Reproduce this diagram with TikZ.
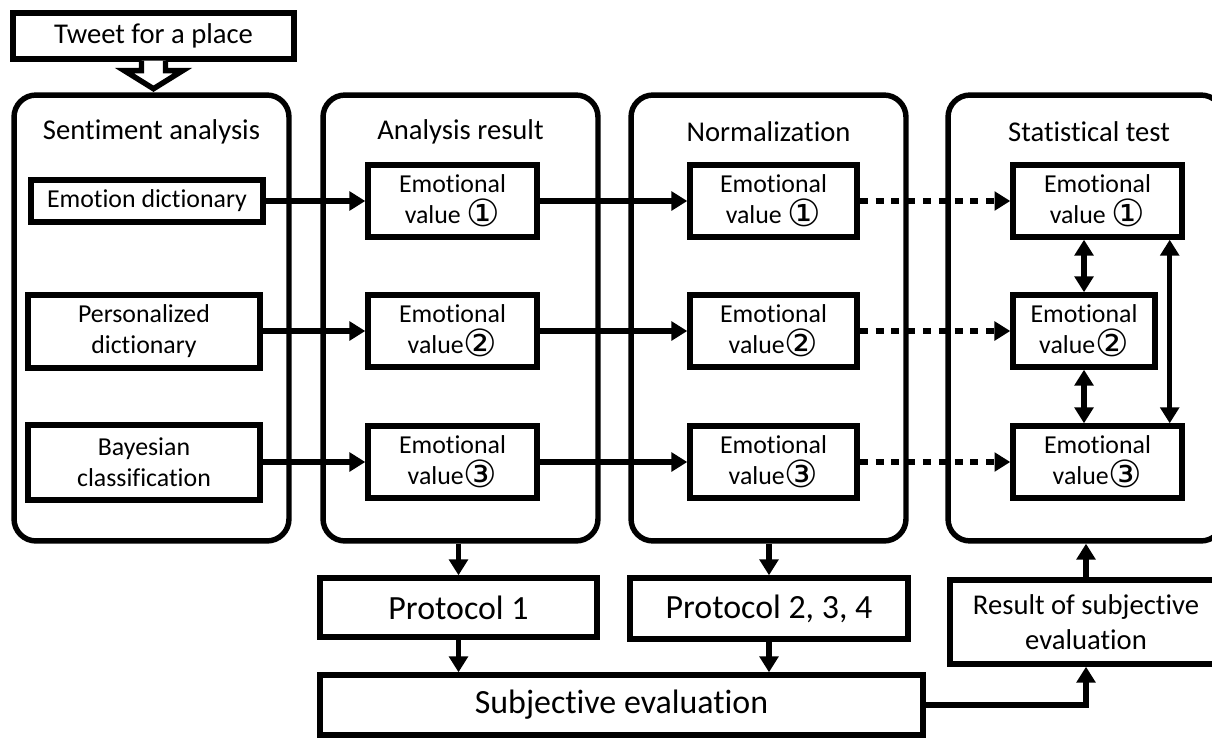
\documentclass[tikz,border=0pt]{standalone}
\usepackage{fontspec}
\setmainfont{Carlito}[Ligatures={NoCommon}]
\newfontfamily\circfont{DejaVu Sans}[Scale=1.45]
\usetikzlibrary{arrows.meta,calc}

\newcommand\cnum[1]{{\circfont\raisebox{-0.08em}{#1}}}

\tikzset{
  box/.style={draw, line width=3.1pt, fill=white, inner sep=0pt, align=center,
    font=\fontsize{14.7}{17.6}\selectfont},
  panel/.style={draw, line width=3.1pt, rounded corners=12.5pt, inner sep=0pt,
    minimum width=5.5cm, minimum height=8.92cm},
  paneltitle/.style={inner sep=0pt, font=\fontsize{16.3}{19.6}\selectfont},
  bigbox/.style={box, font=\fontsize{19.3}{23}\selectfont},
  evbox/.style={box, minimum height=1.44cm},
  conn/.style={line width=2.9pt, -{Triangle[length=9pt,width=10.5pt]}},
  dconn/.style={line width=2.9pt, {Triangle[length=9pt,width=10.5pt]}-{Triangle[length=9pt,width=10.5pt]}},
  dotconn/.style={conn, dash pattern=on 4.6pt off 4.4pt},
  hollow/.style={line width=3.1pt, fill=white, line join=miter}
}

\begin{document}
\begin{tikzpicture}[x=0.02cm, y=-0.02cm]
  \useasboundingbox (0,0) rectangle (1212,740);
  \fill[white] (0,0) rectangle (1212,740);
  \clip (0,0) rectangle (1212,740);

  % four stage panels
  \node[panel] (c1) at (151.5,318) {};
  \node[panel] (c2) at (460.5,318) {};
  \node[panel] (c3) at (768.5,318) {};
  \node[panel] (c4) at (1085.5,318) {};
  \node[paneltitle] (t1) at (151.5,132) {Sentiment analysis};
  \node[paneltitle] (t2) at (460.5,132) {Analysis result};
  \node[paneltitle] (t3) at (768.5,132) {Normalization};
  \node[paneltitle] (t4) at (1089,132) {Statistical test};

  % input
  \node[box, font=\fontsize{16.3}{19.6}\selectfont, minimum width=5.62cm, minimum height=0.92cm]
    (tweet) at (153.5,36) {Tweet for a place};
  \coordinate (ha) at (tweet.south);
  \draw[hollow] ($(ha)+(-12,-1)$) -- ($(ha)+(-12,9)$) -- ($(ha)+(-29,9)$) -- ($(ha)+(0,27)$)
    -- ($(ha)+(29,9)$) -- ($(ha)+(12,9)$) -- ($(ha)+(12,-1)$);

  % sentiment analysis methods
  \node[box, minimum width=4.64cm, minimum height=0.84cm] (ed) at (147,201) {Emotion dictionary};
  \node[box, minimum width=4.64cm, minimum height=1.46cm] (pd) at (144,331.5) {Personalized\\dictionary};
  \node[box, minimum width=4.64cm, minimum height=1.5cm] (bc) at (144,462.5) {Bayesian\\classification};

  % analysis results
  \node[evbox, minimum width=3.38cm] (a1) at (452.5,201) {Emotional\\value \cnum{①}};
  \node[evbox, minimum width=3.38cm] (a2) at (452.5,331) {Emotional\\value\cnum{②}};
  \node[evbox, minimum width=3.38cm] (a3) at (452.5,462) {Emotional\\value\cnum{③}};

  % normalized values
  \node[evbox, minimum width=3.34cm] (n1) at (773.5,201) {Emotional\\value \cnum{①}};
  \node[evbox, minimum width=3.34cm] (n2) at (773.5,331) {Emotional\\value\cnum{②}};
  \node[evbox, minimum width=3.34cm] (n3) at (773.5,462) {Emotional\\value\cnum{③}};

  % statistical test
  \node[evbox, minimum width=3.38cm] (s1) at (1097.5,201) {Emotional\\value \cnum{①}};
  \node[evbox, minimum width=2.84cm] (s2) at (1084,331) {Emotional\\value\cnum{②}};
  \node[evbox, minimum width=3.38cm] (s3) at (1097.5,462) {Emotional\\value\cnum{③}};

  % bottom row
  \node[bigbox, minimum width=5.54cm, minimum height=1.18cm] (p1) at (458.5,607.5) {Protocol 1};
  \node[bigbox, minimum width=5.56cm, minimum height=1.22cm] (p2) at (769,608.5) {Protocol 2, 3, 4};
  \node[bigbox, minimum width=12.06cm, minimum height=1.2cm] (subj) at (621.5,705) {Subjective evaluation};
  \node[box, font=\fontsize{16.3}{19.8}\selectfont, minimum width=5.44cm, minimum height=1.68cm]
    (res) at (1086,622) {Result of subjective\\evaluation};

  % connectors
  \draw[conn] (ed.east) -- (a1.west);
  \draw[conn] (pd.east |- a2.west) -- (a2.west);
  \draw[conn] (bc.east |- a3.west) -- (a3.west);
  \draw[conn] (a1.east) -- (n1.west);
  \draw[conn] (a2.east) -- (n2.west);
  \draw[conn] (a3.east) -- (n3.west);
  \draw[dotconn] (n1.east) -- (s1.west);
  \draw[dotconn] (n2.east) -- (s2.west);
  \draw[dotconn] (n3.east) -- (s3.west);
  \draw[dconn] (s2.north |- s1.south) -- (s2.north);
  \draw[dconn] (s2.south) -- (s2.south |- s3.north);
  \draw[dconn] ($(s1.south east)+(-15,0)$) -- ($(s3.north east)+(-15,0)$);

  \draw[conn] (p1.north |- c2.south) -- (p1.north);
  \draw[conn] (p2.north |- c3.south) -- (p2.north);
  \draw[conn] (p1.south) -- (p1.south |- subj.north);
  \draw[conn] (p2.south) -- (p2.south |- subj.north);
  \draw[conn] (subj.east) -- (res.south |- subj.east) -- (res.south);
  \draw[conn] (res.north) -- (res.north |- c4.south);
\end{tikzpicture}
\end{document}
